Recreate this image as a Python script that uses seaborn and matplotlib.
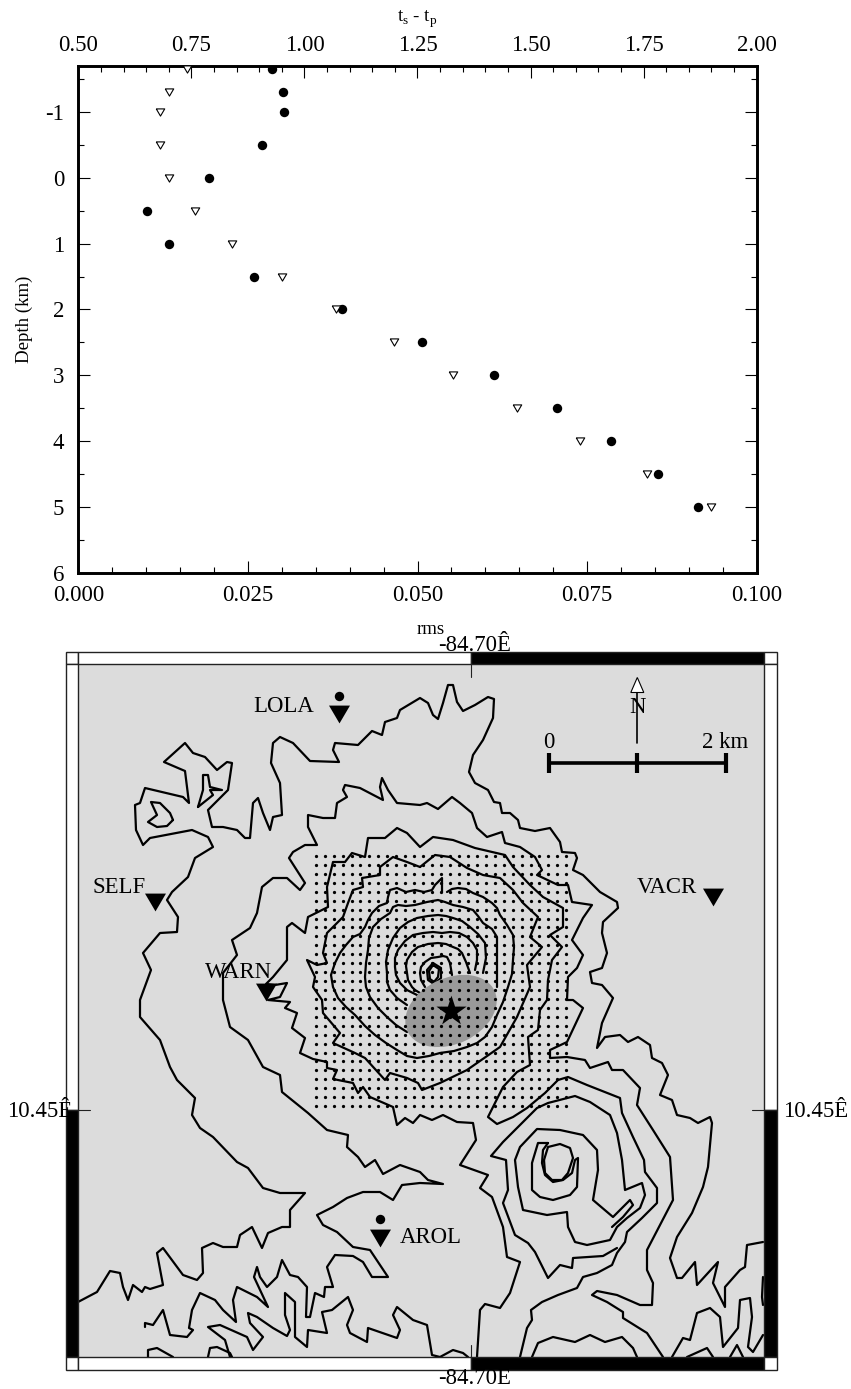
import numpy as np
import pandas as pd
import matplotlib
matplotlib.use('Agg')
import matplotlib.pyplot as plt
from matplotlib.patches import Ellipse, Rectangle
import seaborn as sns

# top panel values
depth = [-1.65, -1.3, -1, -0.5, 0, 0.5, 1, 1.5, 2, 2.5, 3, 3.5, 4, 4.5, 5]
rms = [0.0285, 0.0302, 0.0303, 0.0271, 0.0192, 0.0102, 0.0134, 0.0259,
       0.0389, 0.0507, 0.0613, 0.0705, 0.0785, 0.0854, 0.0914]
ts_tp = [0.740, 0.700, 0.680, 0.680, 0.700, 0.759, 0.840, 0.950,
         1.070, 1.198, 1.329, 1.470, 1.609, 1.758, 1.900]

rms_ticks = [0.0, 0.025, 0.05, 0.075, 0.1]
rms_labels = ['0.000', '0.025', '0.050', '0.075', '0.100']
tstp_ticks = [0.5, 0.75, 1.0, 1.25, 1.5, 1.75, 2.0]
tstp_labels = ['0.50', '0.75', '1.00', '1.25', '1.50', '1.75', '2.00']
depth_ticks = [-1, 0, 1, 2, 3, 4, 5, 6]
depth_labels = ['-1', '0', '1', '2', '3', '4', '5', '6']

# map: stations and grid, in digitised map units
station_names = ['LOLA', 'SELF', 'WARN', 'VACR', 'AROL']
station_x = [339, 155, 266, 713, 380]
station_y = [714, 902, 992, 897, 1238]
label_x = [253, 93, 205, 637, 400]
label_y = [712, 893, 978, 893, 1243]
circle_x = [339, 380]
circle_y = [695.5, 1219]
grid_x = [315.7, 324.65, 333.6, 342.55, 351.5, 360.45, 369.4, 378.35, 387.3, 396.25,
          405.2, 414.15, 423.1, 432.05, 441, 449.95, 458.9, 467.85, 476.8, 485.75,
          494.7, 503.65, 512.6, 521.55, 530.5, 539.45, 548.4, 557.35, 566.3]
grid_y = [856, 864.9, 873.9, 882.8, 891.7, 900.7, 909.6, 918.5, 927.4, 936.4,
          945.3, 954.2, 963.2, 972.1, 981, 990, 998.9, 1007.8, 1016.7, 1025.7,
          1034.6, 1043.5, 1052.5, 1061.4, 1070.3, 1079.3, 1088.2, 1097.1, 1106]
star_x = [451]
star_y = [1011]

# contours
contour_a = [(78, 1302), (97, 1292), (110, 1271), (120, 1273), (123, 1287), (128, 1300), (133, 1285),
             (142, 1292), (145, 1287), (150, 1289), (163, 1285), (157, 1253), (163, 1248), (183, 1275),
             (197, 1280), (203, 1273), (202, 1248), (213, 1243), (223, 1247), (237, 1247), (240, 1235),
             (252, 1227), (262, 1248), (268, 1233), (282, 1227), (290, 1227), (290, 1210), (305, 1193),
             (280, 1193), (263, 1188), (248, 1168), (237, 1162), (213, 1137), (200, 1128), (192, 1115),
             (195, 1098), (177, 1080), (170, 1067), (160, 1040), (140, 1017), (140, 1000), (151, 970),
             (143, 953), (160, 933), (177, 932), (178, 917), (167, 900), (172, 892), (188, 877),
             (195, 858), (213, 847), (208, 837), (192, 830), (150, 838), (143, 845), (136, 830),
             (135, 805), (140, 803), (145, 788), (183, 797), (189, 803), (185, 771), (164, 762),
             (185, 743), (193, 753), (205, 757), (217, 770), (227, 762), (232, 763), (228, 790),
             (208, 810), (212, 827), (223, 827), (237, 830), (245, 838), (250, 838), (253, 803),
             (258, 798), (263, 813), (270, 830), (273, 817), (282, 815), (280, 783), (271, 763),
             (273, 743), (280, 737), (293, 743), (310, 761), (339, 762), (333, 750), (335, 743),
             (358, 745), (372, 731), (382, 735), (385, 722), (397, 718), (400, 710), (420, 698),
             (428, 703), (433, 715), (438, 719), (443, 703), (448, 685), (453, 685), (457, 702),
             (463, 711), (475, 705), (488, 697), (494, 699), (493, 718), (483, 740), (473, 755),
             (469, 772), (475, 783), (488, 790), (494, 802), (500, 803), (502, 813), (510, 813),
             (518, 820), (520, 828), (535, 831), (550, 828), (560, 842), (562, 852), (575, 853),
             (577, 858), (573, 870), (583, 875), (600, 892), (617, 902), (618, 908), (603, 922),
             (602, 933), (607, 953), (602, 968), (590, 972), (592, 983), (602, 985), (613, 998),
             (602, 1023), (597, 1048), (605, 1037), (620, 1035), (628, 1042), (638, 1037), (650, 1045),
             (652, 1058), (662, 1063), (668, 1075), (660, 1095), (672, 1100), (677, 1115), (690, 1118),
             (698, 1123), (710, 1117), (712, 1123), (708, 1167), (703, 1187), (692, 1213), (677, 1237),
             (670, 1258), (677, 1278), (682, 1278), (695, 1262), (697, 1285), (718, 1262), (713, 1283),
             (725, 1307), (725, 1287), (740, 1270), (745, 1267), (747, 1245), (763, 1242)]
contour_b = [(145, 1327), (145, 1323), (153, 1325), (163, 1310), (170, 1335), (187, 1337), (193, 1330),
             (189, 1328), (192, 1310), (200, 1293), (215, 1300), (223, 1310), (236, 1322), (233, 1300),
             (237, 1287), (257, 1297), (268, 1307), (254, 1277), (257, 1267), (260, 1277), (267, 1287),
             (277, 1277), (282, 1260), (290, 1275), (298, 1277), (307, 1287), (306, 1317), (310, 1317),
             (315, 1293), (324, 1297), (325, 1287), (333, 1287), (327, 1267), (335, 1255), (353, 1256),
             (363, 1262), (372, 1277), (388, 1277), (370, 1250), (353, 1247), (337, 1232), (323, 1225),
             (317, 1215), (333, 1207), (347, 1198), (363, 1192), (380, 1192), (393, 1200), (402, 1185),
             (420, 1183), (443, 1184), (428, 1180), (420, 1172), (400, 1165), (383, 1174), (375, 1160),
             (365, 1167), (358, 1157), (347, 1147), (348, 1135), (327, 1130), (308, 1113), (282, 1092),
             (280, 1075), (263, 1067), (248, 1040), (230, 1027), (223, 1000), (223, 973), (237, 955),
             (232, 940), (250, 928), (257, 913), (262, 887), (273, 878), (287, 878), (300, 890),
             (305, 883), (289, 858), (293, 852), (305, 845), (317, 845), (308, 827), (308, 815),
             (323, 818), (335, 818), (337, 803), (347, 797), (343, 790), (345, 785), (360, 788),
             (383, 800), (380, 787), (382, 778), (388, 790), (397, 803), (420, 805), (427, 803),
             (438, 809), (452, 797), (460, 803), (472, 813), (477, 828), (487, 837), (502, 832),
             (505, 843), (520, 847), (535, 857), (542, 870), (537, 875), (558, 885), (568, 885),
             (572, 902), (592, 905), (583, 918), (572, 940), (583, 955), (577, 968), (568, 977),
             (567, 1000), (573, 1000), (583, 1008), (575, 1025), (567, 1042), (550, 1050), (550, 1058),
             (567, 1057), (585, 1060), (590, 1068), (608, 1062), (612, 1070), (623, 1070), (640, 1088),
             (637, 1105), (653, 1130), (670, 1157), (673, 1200), (647, 1250), (647, 1270), (653, 1283),
             (652, 1305), (640, 1305), (617, 1295), (597, 1291), (592, 1295), (607, 1302), (623, 1312),
             (623, 1318), (647, 1333), (663, 1357)]
contour_c = [(477, 1357), (480, 1310), (485, 1304), (500, 1308), (510, 1293), (520, 1262), (507, 1257),
             (503, 1227), (492, 1197), (480, 1188), (488, 1175), (460, 1165), (476, 1140), (473, 1123),
             (457, 1122), (443, 1115), (432, 1120), (420, 1115), (413, 1123), (405, 1118), (397, 1125),
             (393, 1107), (370, 1097), (363, 1087), (358, 1093), (353, 1083), (333, 1079), (337, 1070),
             (327, 1068), (327, 1062), (313, 1059), (300, 1053), (305, 1038), (292, 1028), (297, 1013),
             (285, 1008), (290, 1002), (268, 1000), (280, 997), (287, 983), (275, 985), (266, 984),
             (273, 977), (287, 960), (287, 927), (292, 923), (305, 933), (308, 917), (328, 907),
             (327, 887), (333, 862), (345, 862), (352, 853), (365, 857), (368, 838), (385, 838),
             (397, 828), (407, 833), (420, 847), (433, 837), (453, 840), (475, 848), (505, 855),
             (513, 867), (530, 885), (543, 897), (563, 908), (563, 927), (550, 935), (562, 947),
             (552, 960), (548, 980), (547, 1000), (540, 1010), (538, 1030), (528, 1037), (530, 1065),
             (517, 1072), (503, 1087), (488, 1117), (497, 1124), (513, 1117), (527, 1108), (545, 1093),
             (558, 1080), (568, 1077), (587, 1085), (620, 1098), (622, 1113), (633, 1137), (644, 1160),
             (645, 1172), (657, 1188), (657, 1203), (642, 1218), (627, 1232), (625, 1242), (617, 1253),
             (612, 1265), (597, 1273), (583, 1277), (577, 1288), (558, 1295), (542, 1302), (531, 1310),
             (532, 1320), (527, 1328), (520, 1357)]
contour_d = [(420, 867), (407, 862), (393, 857), (380, 867), (380, 875), (362, 878), (363, 887), (353, 890),
             (348, 903), (343, 917), (327, 933), (323, 953), (327, 963), (317, 965), (307, 960), (315, 977),
             (313, 987), (322, 1000), (323, 1013), (340, 1033), (333, 1043), (355, 1053), (365, 1058),
             (385, 1080), (390, 1073), (407, 1078), (418, 1083), (422, 1090), (440, 1083), (467, 1070),
             (500, 1047), (517, 1017), (530, 987), (527, 965), (542, 947), (530, 937), (538, 917),
             (523, 903), (513, 890), (500, 878), (483, 875), (467, 868), (450, 857), (435, 855), (420, 867)]
contour_e = [(442, 892), (442, 878), (435, 885), (432, 890), (424, 892), (415, 890), (406, 892), (397, 888),
             (390, 890), (388, 897), (387, 903), (379, 906), (372, 913), (368, 920), (365, 927), (360, 934),
             (353, 937), (346, 945), (340, 953), (335, 963), (331, 975), (333, 987), (338, 998), (346, 1007),
             (355, 1015), (365, 1026), (375, 1035), (386, 1043), (397, 1050), (407, 1056), (417, 1058),
             (429, 1056), (440, 1053), (454, 1051), (467, 1047), (477, 1043), (485, 1037), (492, 1027),
             (497, 1015), (503, 1002), (508, 987), (512, 974), (513, 960), (514, 947), (513, 935), (507, 925),
             (500, 915), (497, 908), (492, 903), (483, 897), (473, 893), (466, 889), (458, 888), (452, 889),
             (447, 892)]
contour_f = [(407, 1032), (396, 1025), (387, 1017), (378, 1008), (370, 997), (366, 987), (365, 977), (366, 963),
             (368, 950), (369, 938), (373, 927), (381, 919), (390, 913), (393, 907), (398, 905), (406, 906),
             (415, 905), (427, 902), (438, 900), (445, 902), (453, 905), (463, 907), (473, 910), (478, 916),
             (483, 923), (492, 929), (497, 937), (497, 950), (497, 965), (497, 987)]
contour_g = [(407, 1005), (397, 998), (390, 990), (387, 982), (387, 973), (386, 962), (388, 950), (393, 938),
             (400, 928), (408, 922), (417, 918), (428, 916), (438, 915), (446, 916), (453, 918), (462, 921),
             (470, 927), (478, 934), (485, 943), (486, 958), (483, 973)]
contour_h = [(417, 995), (407, 990), (400, 983), (396, 975), (395, 967), (395, 958), (398, 950), (405, 941),
             (413, 935), (423, 933), (433, 932), (442, 933), (450, 932), (459, 933), (467, 937), (473, 943),
             (477, 950), (477, 960), (475, 970)]
contour_i = [(420, 993), (415, 990), (412, 987), (408, 980), (407, 973), (406, 966), (407, 960), (412, 952),
             (418, 947), (428, 944), (438, 943), (446, 944), (453, 947), (458, 949), (462, 953), (466, 962),
             (470, 973)]
contour_j = [(425, 987), (421, 980), (420, 973), (421, 967), (425, 962), (431, 958), (438, 957), (443, 956),
             (447, 957), (450, 963), (452, 975)]
contour_k = [(433, 963), (441, 968), (441, 978), (434, 984), (428, 980), (427, 970), (433, 963)]
contour_l = [(433, 965), (439, 969), (438, 977), (434, 982), (430, 979), (429, 971), (433, 965)]
hill_outer = [(617, 1248), (603, 1256), (573, 1258), (572, 1268), (560, 1265), (548, 1278), (535, 1252),
              (528, 1243), (515, 1235), (503, 1203), (508, 1190), (506, 1160), (491, 1156), (503, 1142),
              (520, 1125), (537, 1108), (548, 1103), (575, 1096), (590, 1102), (610, 1115), (617, 1133),
              (622, 1160), (625, 1190), (642, 1183), (645, 1195), (640, 1208), (627, 1218), (617, 1227),
              (610, 1240), (587, 1245), (575, 1242), (568, 1227), (567, 1212), (547, 1215), (523, 1210),
              (518, 1187), (515, 1160), (520, 1147), (537, 1129), (560, 1130), (583, 1135), (597, 1150),
              (598, 1170), (593, 1200), (613, 1217), (630, 1200), (633, 1205), (623, 1217), (612, 1227)]
hill_ring1 = [(548, 1143), (538, 1143), (532, 1163), (532, 1190), (540, 1197), (553, 1200), (570, 1195),
              (577, 1187), (578, 1158), (575, 1160), (572, 1173), (563, 1180), (553, 1182), (545, 1175),
              (542, 1163), (543, 1150), (548, 1143)]
hill_ring2 = [(544, 1160), (548, 1147), (560, 1144), (570, 1148), (573, 1158), (568, 1173), (562, 1180),
              (552, 1180), (545, 1173), (544, 1160)]
south_arc1 = [(532, 1357), (538, 1343), (553, 1337), (575, 1342), (590, 1335), (605, 1342), (622, 1337),
              (633, 1348), (637, 1357)]
south_arc2 = [(672, 1357), (683, 1338), (690, 1340), (697, 1313), (710, 1308), (720, 1317), (723, 1347),
              (738, 1328), (740, 1300), (750, 1298), (752, 1317), (748, 1347), (753, 1352), (763, 1335)]
south_arc3 = [(687, 1357), (707, 1348), (713, 1357)]
south_arc4 = [(730, 1357), (737, 1345), (743, 1357)]
south_arc5 = [(763, 1277), (762, 1297), (763, 1305)]
south_arc6 = [(148, 1357), (148, 1350), (157, 1348), (173, 1357)]
south_arc7 = [(208, 1357), (210, 1348), (217, 1347), (230, 1353), (232, 1357)]
south_long = [(230, 1357), (225, 1340), (208, 1327), (220, 1325), (247, 1337), (253, 1350), (263, 1337),
              (250, 1323), (248, 1313), (257, 1317), (273, 1328), (287, 1336), (290, 1330), (285, 1315),
              (285, 1293), (295, 1302), (295, 1337), (307, 1347), (308, 1330), (327, 1333), (322, 1312),
              (332, 1310), (348, 1297), (353, 1310), (347, 1325), (350, 1333), (367, 1342), (368, 1328),
              (397, 1338), (400, 1330), (393, 1315), (397, 1307), (413, 1320), (427, 1325), (432, 1355),
              (440, 1357), (453, 1350), (463, 1353), (468, 1357)]
nw_loop1 = [(198, 807), (203, 790), (203, 775), (208, 775), (210, 787), (222, 790), (210, 790), (213, 795),
            (198, 807)]
nw_loop2 = [(173, 820), (170, 813), (160, 803), (151, 802), (157, 815), (148, 822), (157, 827), (167, 826),
            (173, 820)]

contours = [contour_a, contour_b, contour_c, contour_d, contour_e, contour_f, contour_g, contour_h,
            contour_i, contour_j, contour_k, contour_l, hill_outer, hill_ring1, hill_ring2, south_arc1,
            south_arc2, south_arc3, south_arc4, south_arc5, south_arc6, south_arc7, south_long,
            nw_loop1, nw_loop2]

# table for seaborn, one row per contour vertex
rows = []
for n, line in enumerate(contours):
    for x, y in line:
        rows.append((n, x, y))
contour_df = pd.DataFrame(rows, columns=['contour', 'x', 'y'])
gx, gy = np.meshgrid(grid_x, grid_y)
top_df = pd.DataFrame({'depth': depth, 'rms': rms, 'ts_tp': ts_tp})

sns.set_theme(style='ticks')
plt.rcParams['font.family'] = ['Liberation Serif', 'DejaVu Serif']
plt.rcParams['mathtext.fontset'] = 'custom'
plt.rcParams['mathtext.rm'] = 'Liberation Serif'
plt.rcParams['axes.unicode_minus'] = False
plt.rcParams['text.color'] = 'black'
plt.rcParams['axes.labelcolor'] = 'black'
plt.rcParams['xtick.labelcolor'] = 'black'
plt.rcParams['ytick.labelcolor'] = 'black'

W, H = 851, 1389
fig = plt.figure(figsize=(W / 100, H / 100), dpi=100, facecolor='white')
tick_fs = 16.4
label_fs = 13.6
tri = [(-1, 0.85), (1, 0.85), (0, -0.85), (-1, 0.85)]

#---------------- top panel ----------------
ax = fig.add_axes([78.3 / W, 1 - 572.7 / H, 678.4 / W, 506.7 / H])
sns.scatterplot(data=top_df, x='rms', y='depth', color='black', s=46, linewidth=0, ax=ax, zorder=3)
ax.set_xlim(0, 0.1)
ax.set_ylim(6, -1.7)
ax.set_xticks(rms_ticks)
ax.set_xticklabels(rms_labels)
ax.set_xticks(np.arange(0, 0.1001, 0.005), minor=True)
ax.set_yticks(depth_ticks)
ax.set_yticklabels(depth_labels)
ax.set_yticks(np.arange(-1.5, 6, 0.5), minor=True)
ax.set_xlabel('rms', fontsize=label_fs, labelpad=11, x=0.52)
ax.set_ylabel('Depth (km)', fontsize=label_fs, labelpad=9)
ax.tick_params(axis='both', which='major', direction='in', length=8.6, width=0.8, labelsize=tick_fs, color='black')
ax.tick_params(axis='both', which='minor', direction='in', length=4.3, width=0.8, color='black')
ax.tick_params(axis='y', which='both', right=True)
ax.tick_params(axis='y', pad=10)
ax.tick_params(axis='x', pad=9)

ax2 = ax.twiny()
sns.scatterplot(data=top_df, x='ts_tp', y='depth', marker=tri, s=37, facecolor='white',
                edgecolor='black', linewidth=0.8, ax=ax2, zorder=3)
ax2.set_xlim(0.5, 2.0)
ax2.set_ylim(6, -1.7)
ax2.set_xticks(tstp_ticks)
ax2.set_xticklabels(tstp_labels)
ax2.set_xticks(np.arange(0.5, 2.01, 0.05), minor=True)
ax2.set_xlabel('t$_{\\mathrm{s}}$ - t$_{\\mathrm{p}}$', fontsize=label_fs, labelpad=10)
ax2.tick_params(axis='x', which='major', direction='in', length=8.6, width=0.8, labelsize=tick_fs, pad=7, color='black')
ax2.tick_params(axis='x', which='minor', direction='in', length=4.3, width=0.8, color='black')
for a in (ax, ax2):
    for s in a.spines.values():
        s.set_linewidth(1.9)
        s.set_color('black')

#---------------- map panel ----------------
m = fig.add_axes([0, 0, 1, 1])
m.set_xlim(0, W)
m.set_ylim(H, 0)
m.axis('off')
m.patch.set_alpha(0)

m.add_patch(Rectangle((78.3, 664), 686, 693, fc='#dcdcdc', ec='none', zorder=0))
sns.lineplot(data=contour_df, x='x', y='y', units='contour', estimator=None, sort=False, color='black',
             linewidth=1.6, solid_joinstyle='round', ax=m, legend=False, zorder=2)
m.add_patch(Ellipse((451, 1011), 96, 66, angle=-25, fc='#9a9a9a', ec='none', zorder=3))
sns.scatterplot(x=gx.ravel(), y=gy.ravel(), color='black', s=5.5, linewidth=0, ax=m, zorder=4)
sns.scatterplot(x=star_x, y=star_y, color='black', marker='*', s=520, linewidth=0, ax=m, zorder=5)
sns.scatterplot(x=station_x, y=station_y, color='black', marker=tri, s=228, linewidth=0, ax=m, zorder=5)
sns.scatterplot(x=circle_x, y=circle_y, color='black', s=46, linewidth=0, ax=m, zorder=5)
m.set_xlim(0, W)
m.set_ylim(H, 0)
m.set_xlabel('')
m.set_ylabel('')

# GMT style fancy frame
frame = [(66, 652, 12.3, 12, 'white'), (78.3, 652, 392.2, 12, 'white'), (470.5, 652, 293.8, 12, 'black'),
         (764.3, 652, 12.7, 12, 'white'), (66, 664, 12.3, 446, 'white'), (66, 1110, 12.3, 247, 'black'),
         (764.3, 664, 12.7, 446, 'white'), (764.3, 1110, 12.7, 247, 'black'), (66, 1357, 12.3, 12.5, 'white'),
         (78.3, 1357, 392.2, 12.5, 'white'), (470.5, 1357, 293.8, 12.5, 'black'), (764.3, 1357, 12.7, 12.5, 'white')]
for fx, fy, fw, fh, fc in frame:
    m.add_patch(Rectangle((fx, fy), fw, fh, fc=fc, ec='#222222', lw=1.0, zorder=6))
m.plot([470.5, 470.5], [664, 677], color='#222222', lw=0.8, zorder=7)
m.plot([470.5, 470.5], [1345, 1357], color='#222222', lw=0.8, zorder=7)
m.plot([78.3, 90], [1110, 1110], color='#222222', lw=0.8, zorder=7)
m.plot([752, 764.3], [1110, 1110], color='#222222', lw=0.8, zorder=7)

# scale bar and north arrow
m.plot([549, 725.7], [763, 763], color='black', lw=2.6, solid_capstyle='butt', zorder=5)
for tx in [549, 637.3, 725.7]:
    m.plot([tx, tx], [753, 773], color='black', lw=3, solid_capstyle='butt', zorder=5)
m.plot([637.3, 637.3], [692, 743], color='black', lw=1.2, zorder=5)
m.fill([630.8, 643.8, 637.3], [692.5, 692.5, 677.5], fc='white', ec='black', lw=0.8, zorder=5)

for name, tx, ty in zip(station_names, label_x, label_y):
    m.text(tx, ty, name, fontsize=tick_fs, ha='left', va='baseline', zorder=8)
m.text(637.3, 713, 'N', fontsize=tick_fs, ha='center', va='baseline', zorder=8)
m.text(549, 748, '0', fontsize=tick_fs, ha='center', va='baseline', zorder=8)
m.text(725.5, 748, '2 km', fontsize=tick_fs, ha='center', va='baseline', zorder=8)
m.text(475, 651, '-84.70Ê', fontsize=tick_fs, ha='center', va='baseline', zorder=8)
m.text(475, 1384, '-84.70Ê', fontsize=tick_fs, ha='center', va='baseline', zorder=8)
m.text(72, 1117, '10.45Ê', fontsize=tick_fs, ha='right', va='baseline', zorder=8)
m.text(783, 1117, '10.45Ê', fontsize=tick_fs, ha='left', va='baseline', zorder=8)

fig.savefig('out.png', dpi=100)
